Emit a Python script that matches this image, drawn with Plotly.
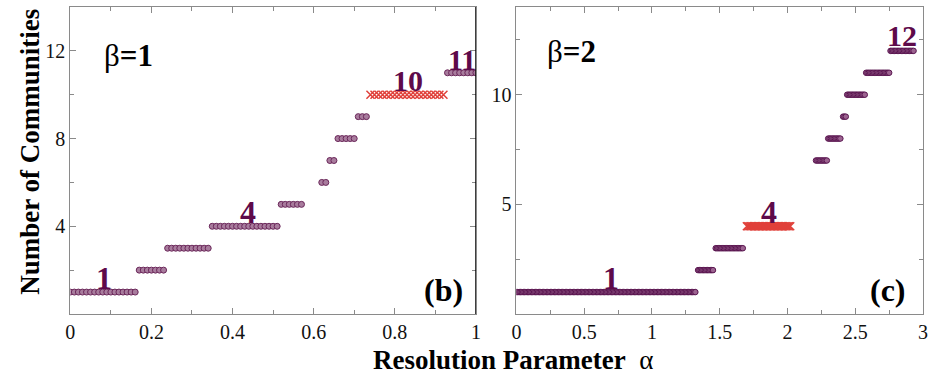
import numpy as np
import plotly.graph_objects as go
from plotly.subplots import make_subplots

# ---- data (plateaus of the alpha sweep, step 0.01) ----
STEP = 0.01
# beta = 1 panel
levels_b = [1, 2, 3, 4, 5, 6, 7, 8, 9, 10, 11]
start_b = [0.00, 0.17, 0.24, 0.35, 0.52, 0.62, 0.64, 0.66, 0.71, 0.74, 0.93]
end_b = [0.16, 0.23, 0.34, 0.51, 0.57, 0.63, 0.65, 0.70, 0.73, 0.92, 1.00]
highlight_b = 10
# beta = 2 panel
levels_c = [1, 2, 3, 4, 7, 8, 9, 10, 11, 12]
start_c = [0.00, 1.34, 1.47, 1.70, 2.21, 2.30, 2.41, 2.44, 2.58, 2.76]
end_c = [1.32, 1.45, 1.67, 2.02, 2.29, 2.39, 2.43, 2.57, 2.75, 2.93]
highlight_c = 4

xticks_b = [0, 0.2, 0.4, 0.6, 0.8, 1]
xticklabels_b = ["0", "0.2", "0.4", "0.6", "0.8", "1"]
yticks_b = [4, 8, 12]
xticks_c = [0, 0.5, 1, 1.5, 2, 2.5, 3]
xticklabels_c = ["0", "0.5", "1", "1.5", "2", "2.5", "3"]
yticks_c = [5, 10]


def expand(levels, starts, ends):
    xs, ys = [], []
    for lv, s, e in zip(levels, starts, ends):
        n = int(round((e - s) / STEP)) + 1
        a = np.round(s + STEP * np.arange(n), 2)
        xs.append(a)
        ys.append(np.full(n, lv))
    return xs, ys


W, H = 933, 374
FONT = "Liberation Serif, Times New Roman, serif"
PURPLE_TXT = "#5e0a4a"

fig = make_subplots(rows=1, cols=2)

for col, (levels, starts, ends, hl, msize, fill, edge) in enumerate([
    (levels_b, start_b, end_b, highlight_b, 6, "#a87c9d", "#6a2659"),
    (levels_c, start_c, end_c, highlight_c, 5.5, "#9c6390", "#5a1650"),
], start=1):
    xs, ys = expand(levels, starts, ends)
    cx = np.concatenate([x for x, lv in zip(xs, levels) if lv != hl])
    cy = np.concatenate([y for y, lv in zip(ys, levels) if lv != hl])
    rx = np.concatenate([x for x, lv in zip(xs, levels) if lv == hl])
    ry = np.concatenate([y for y, lv in zip(ys, levels) if lv == hl])
    fig.add_trace(go.Scatter(x=cx, y=cy, mode="markers", showlegend=False,
                             marker=dict(symbol="circle", size=msize, color=fill,
                                         line=dict(color=edge, width=1))),
                  row=1, col=col)
    fig.add_trace(go.Scatter(x=rx, y=ry, mode="markers", showlegend=False,
                             marker=dict(symbol="x-thin", size=8,
                                         line=dict(color="#e0403a", width=1.5))),
                  row=1, col=col)

px = lambda v: v / W
py = lambda v: 1 - v / H

TICKFONT = dict(family=FONT, size=20, color="#111111")
MINOR = dict(ticks="inside", ticklen=4, tickcolor="#8a8a8a")


def axis(**kw):
    d = dict(showgrid=False, zeroline=False, showline=True, linecolor="#8a8a8a",
             linewidth=1, mirror="ticks", ticks="inside", ticklen=6,
             tickcolor="#8a8a8a", tickfont=TICKFONT)
    d.update(kw)
    return d


fig.update_layout(
    width=W, height=H, margin=dict(l=0, r=0, t=0, b=0),
    font=dict(family=FONT, color="black"),
    paper_bgcolor="white", plot_bgcolor="white",
    xaxis=axis(domain=[px(66), px(476)], range=[0, 1], tickvals=xticks_b, ticktext=xticklabels_b,
               minor=dict(tickvals=[0.1, 0.3, 0.5, 0.7, 0.9], **MINOR)),
    yaxis=axis(domain=[py(314), py(7)], range=[0, 14], tickvals=yticks_b,
               minor=dict(tickvals=[2, 6, 10, 14], **MINOR)),
    xaxis2=axis(domain=[px(517), px(928)], range=[0, 3], tickvals=xticks_c, ticktext=xticklabels_c,
                minor=dict(tickvals=[0.25, 0.75, 1.25, 1.75, 2.25, 2.75], **MINOR)),
    yaxis2=axis(domain=[py(314), py(7)], range=[0, 14], tickvals=yticks_c,
                minor=dict(tickvals=[2.5, 7.5, 12.5], **MINOR)),
)

# black right edge of the left panel
fig.add_shape(type="line", xref="x", yref="y", x0=1, x1=1, y0=0, y1=14,
              line=dict(color="black", width=1.5))

ann = []
def lab(text, x, y, xr, yr, size=32, color=PURPLE_TXT):
    ann.append(dict(text=text, x=x, y=y, xref=xr, yref=yr, showarrow=False,
                    xanchor="center", yanchor="middle",
                    font=dict(family=FONT, size=size, color=color)))

lab("<b>1</b>", 0.083, 1.64, "x", "y")
lab("<b>4</b>", 0.439, 4.64, "x", "y")
lab("<b>10</b>", 0.832, 10.64, "x", "y", size=30)
lab("<b>11</b>", 0.965, 11.6, "x", "y", size=30)
lab("β<b>=1</b>", 0.144, 11.8, "x", "y", size=31, color="black")
lab("<b>(b)</b>", 0.92, 1.09, "x", "y", size=32, color="black")

lab("<b>1</b>", 0.70, 1.64, "x2", "y2")
lab("<b>4</b>", 1.861, 4.66, "x2", "y2")
lab("<b>12</b>", 2.842, 12.68, "x2", "y2", size=30)
lab("β<b>=2</b>", 0.404, 11.96, "x2", "y2", size=31, color="black")
lab("<b>(c)</b>", 2.745, 1.09, "x2", "y2", size=32, color="black")

ann.append(dict(text="<b>Number of Communities</b>", x=px(25), y=py(152), xref="paper", yref="paper",
                showarrow=False, textangle=-90, xanchor="center", yanchor="middle",
                font=dict(family=FONT, size=27, color="black")))
ann.append(dict(text="<b>Resolution Parameter</b>  α", x=px(514), y=py(360), xref="paper", yref="paper",
                showarrow=False, xanchor="center", yanchor="middle",
                font=dict(family=FONT, size=27, color="black")))
fig.update_layout(annotations=ann)

fig.write_html("out.html")
